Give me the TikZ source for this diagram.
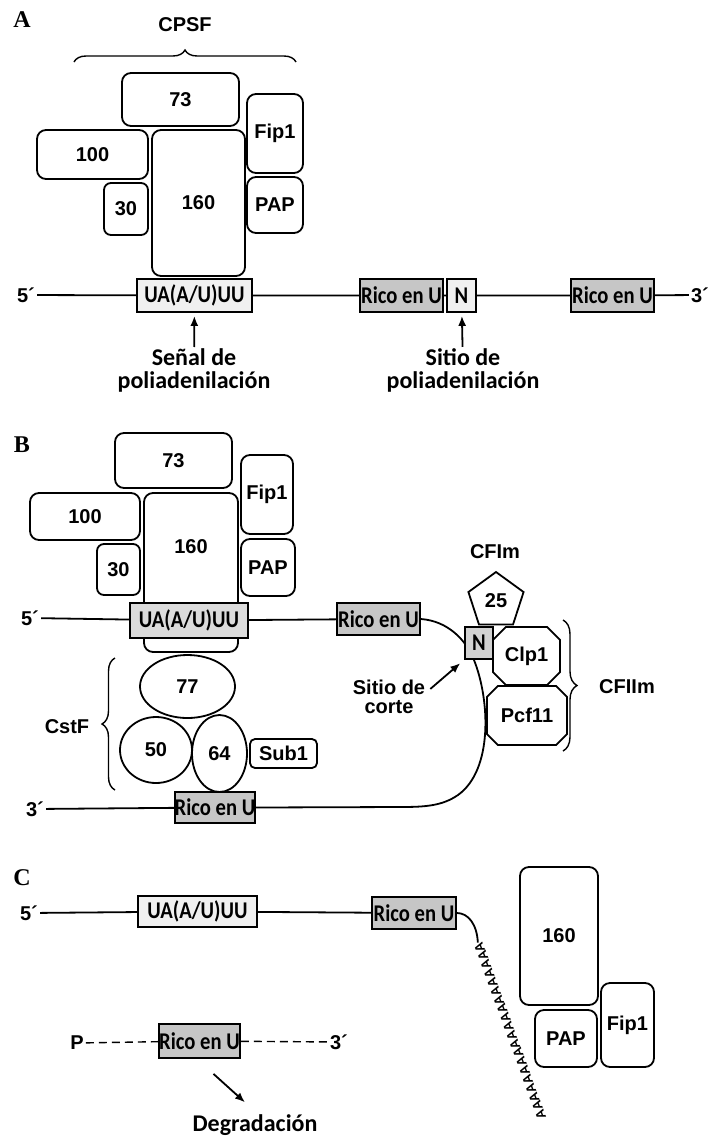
\documentclass[tikz,border=0pt]{standalone}
\usepackage{fontspec}
\setmainfont{Liberation Sans}
\newfontfamily\cali{Carlito}
\newfontfamily\calin[FakeStretch=0.86]{Carlito}
\newfontfamily\tms{Liberation Serif}
\usetikzlibrary{positioning,shapes.geometric,shapes.misc,decorations.pathreplacing,arrows.meta}
\tikzset{
  prot/.style={draw, line width=1.8pt, rounded corners=9pt, fill=white, inner sep=0pt,
    font=\bfseries\fontsize{20}{20}\selectfont},
  blob/.style={draw, line width=1.8pt, fill=white, inner sep=0pt,
    font=\bfseries\fontsize{20}{20}\selectfont},
  seqbox/.style={draw, line width=1.8pt, inner sep=0pt, minimum height=33pt,
    font=\calin\bfseries\fontsize{24}{24}\selectfont},
  rico/.style={seqbox, fill=gray!45, minimum width=83pt},
  uabox/.style={seqbox, fill=gray!12, minimum width=116pt},
  lbl/.style={font=\bfseries\fontsize{20}{20}\selectfont, inner sep=2pt},
  sitetxt/.style={font=\cali\bfseries\fontsize{24}{23}\selectfont, align=center, inner sep=1pt},
  panel/.style={font=\tms\bfseries\fontsize{24}{24}\selectfont},
  rna/.style={line width=1.8pt},
  brc/.style={decorate, decoration={brace, amplitude=12pt}, line width=1.4pt},
  arr/.style={-{Latex[length=10pt,width=8pt]}, line width=1.8pt},
  polya/.style={font=\bfseries\fontsize{13}{13}\selectfont, inner sep=0pt, rotate=110},
}
\begin{document}
\begin{tikzpicture}[x=1pt, y=-1pt]
  \useasboundingbox (0,0) rectangle (715,1141);
  % A
  \node[panel] (labA) at (22,20) {A};
  \node[lbl] (cpsf) at (185,25) {CPSF};
  \draw[brc] (74,62) -- (296,62);
  \node[prot, minimum width=117pt, minimum height=53pt] (a73) at (180.5,99.5) {73};
  \node[prot, minimum width=111pt, minimum height=49pt] (a100) at (92.5,154.5) {100};
  \node[prot, rounded corners=7pt, minimum width=44pt, minimum height=52pt] (a30) at (126,209) {30};
  \node[prot, minimum width=93pt, minimum height=146pt] (a160) at (198.5,203) {160};
  \node[prot, minimum width=56pt, minimum height=79pt] (afip) at (275,133.5) {Fip1};
  \node[prot, minimum width=56pt, minimum height=56pt] (apap) at (275,205) {PAP};
  \node[lbl] (p5a) at (26,295) {5´};
  \node[uabox, minimum width=115pt] (uaA) at (194.5,295.5) {UA(A/U)UU};
  \node[rico] (ricoA1) at (401.5,295.5) {Rico en U};
  \node[seqbox, fill=gray!12, minimum width=29pt] (nA) at (461.5,295.5) {N};
  \node[rico] (ricoA2) at (612.5,295.5) {Rico en U};
  \node[lbl] (p3a) at (700,295) {3´};
  \draw[rna] (p5a) -- (uaA) -- (ricoA1) -- (nA) -- (ricoA2) -- (p3a);
  \node[sitetxt] (senal) at (194,370) {Señal de\\poliadenilación};
  \node[sitetxt] (sitioA) at (463,370) {Sitio de\\poliadenilación};
  \draw[arr, shorten >=3pt] (senal) -- (uaA);
  \draw[arr, shorten >=3pt] (sitioA) -- (nA);
  % B
  \node[panel] (labB) at (22,445) {B};
  \node[prot, minimum width=117pt, minimum height=55pt] (b73) at (173.5,460.5) {73};
  \node[prot, minimum width=110pt, minimum height=47pt] (b100) at (85,516.5) {100};
  \node[prot, rounded corners=7pt, minimum width=43pt, minimum height=51pt] (b30) at (118.5,569.5) {30};
  \node[prot, minimum width=94pt, minimum height=159pt] (b160) at (191,572.5) {};
  \node[lbl] (b160t) at (191,547) {160};
  \node[prot, minimum width=52pt, minimum height=79pt] (bfip) at (267,494.5) {Fip1};
  \node[prot, minimum width=54pt, minimum height=57pt] (bpap) at (268,567.5) {PAP};
  \node[lbl] (p5b) at (30,618) {5´};
  \node[uabox, fill=gray!28, minimum width=118pt, minimum height=35pt] (uaB) at (189,620.5) {UA(A/U)UU};
  \node[rico, minimum height=32pt] (rtop) at (378.5,619) {Rico en U};
  \draw[rna] (p5b) -- (uaB) -- (rtop);
  \node[blob, ellipse, minimum width=95pt, minimum height=63pt] (c77) at (187.5,686.5) {77};
  \node[blob, ellipse, minimum width=72pt, minimum height=66pt] (c50) at (156,750) {50};
  \node[blob, ellipse, minimum width=55pt, minimum height=77pt] (c64) at (219.5,753.5) {64};
  \node[prot, rounded corners=5pt, minimum width=67pt, minimum height=29pt] (sub1) at (283.5,753.5) {Sub1};
  \draw[brc, decoration={amplitude=13pt}] (115,790) -- (115,658);
  \node[lbl] (cstf) at (67,727) {CstF};
  \node[lbl] (p3b) at (35,809) {3´};
  \node[rico, minimum width=80pt, minimum height=31pt] (rbot) at (215,807.5) {Rico en U};
  \draw[rna] (p3b) -- (rbot);
  \draw[rna] (rtop.east) .. controls (448,621) and (466,640) .. (474,660)
    .. controls (490,700) and (493,770) .. (458,795)
    .. controls (442,806) and (425,807) .. (400,807) -- (rbot.east);
  \node[lbl] (cfim) at (495,552) {CFIm};
  \node[blob, regular polygon, regular polygon sides=5, minimum size=58pt] (p25) at (496,601) {25};
  \node[blob, chamfered rectangle, chamfered rectangle xsep=18pt, minimum width=67pt, minimum height=58pt] (clp) at (526.5,656) {Clp1};
  \node[blob, chamfered rectangle, chamfered rectangle xsep=18pt, minimum width=80pt, minimum height=59pt] (pcf) at (527,715.5) {Pcf11};
  \node[seqbox, fill=gray!35, minimum width=28pt, minimum height=32pt] (nB) at (479,643) {N};
  \draw[brc, decoration={amplitude=14pt}] (563,620) -- (563,751);
  \node[lbl] (cfiim) at (627,687) {CFIIm};
  \node[lbl, align=center, font=\bfseries\fontsize{20}{19}\selectfont] (corte) at (389,697) {Sitio de\\corte};
  \draw[arr, shorten >=5pt] ([shift={(3pt,-11pt)}]corte.north east) -- (nB.south west);
  % C
  \node[panel] (labC) at (22,878) {C};
  \node[lbl] (p5c) at (29,913) {5´};
  \node[uabox, minimum width=119pt, minimum height=31pt] (uaC) at (197.5,911.5) {UA(A/U)UU};
  \node[rico, minimum width=84pt, minimum height=32pt] (ricoC) at (414,913) {Rico en U};
  \draw[rna] (p5c) -- (uaC) -- (ricoC);
  \node[polya] (chain) at (510,1031) {AAAAAAAAAAAAAAAAAAAA};
  \draw[rna] (ricoC.east) .. controls (468,913) and (477,924) .. (chain.east);
  \node[prot, minimum width=78pt, minimum height=138pt] (c160) at (559,936) {160};
  \node[prot, minimum width=62pt, minimum height=57pt] (cpap) at (566,1038.5) {PAP};
  \node[prot, minimum width=53pt, minimum height=84pt] (cfip) at (627.5,1025) {Fip1};
  \node[lbl] (pP) at (77,1043) {P};
  \node[rico, minimum width=81pt, minimum height=34pt] (ricoD) at (199.5,1041) {Rico en U};
  \node[lbl] (p3d) at (339,1042) {3´};
  \draw[rna, line width=1.4pt, dash pattern=on 8pt off 5pt] (pP) -- (ricoD) -- (p3d);
  \node[sitetxt] (degr) at (255,1125) {Degradación};
  \draw[arr] ([shift={(14pt,-15pt)}]ricoD.south) -- ([shift={(-10pt,11pt)}]degr.north);
\end{tikzpicture}
\end{document}
